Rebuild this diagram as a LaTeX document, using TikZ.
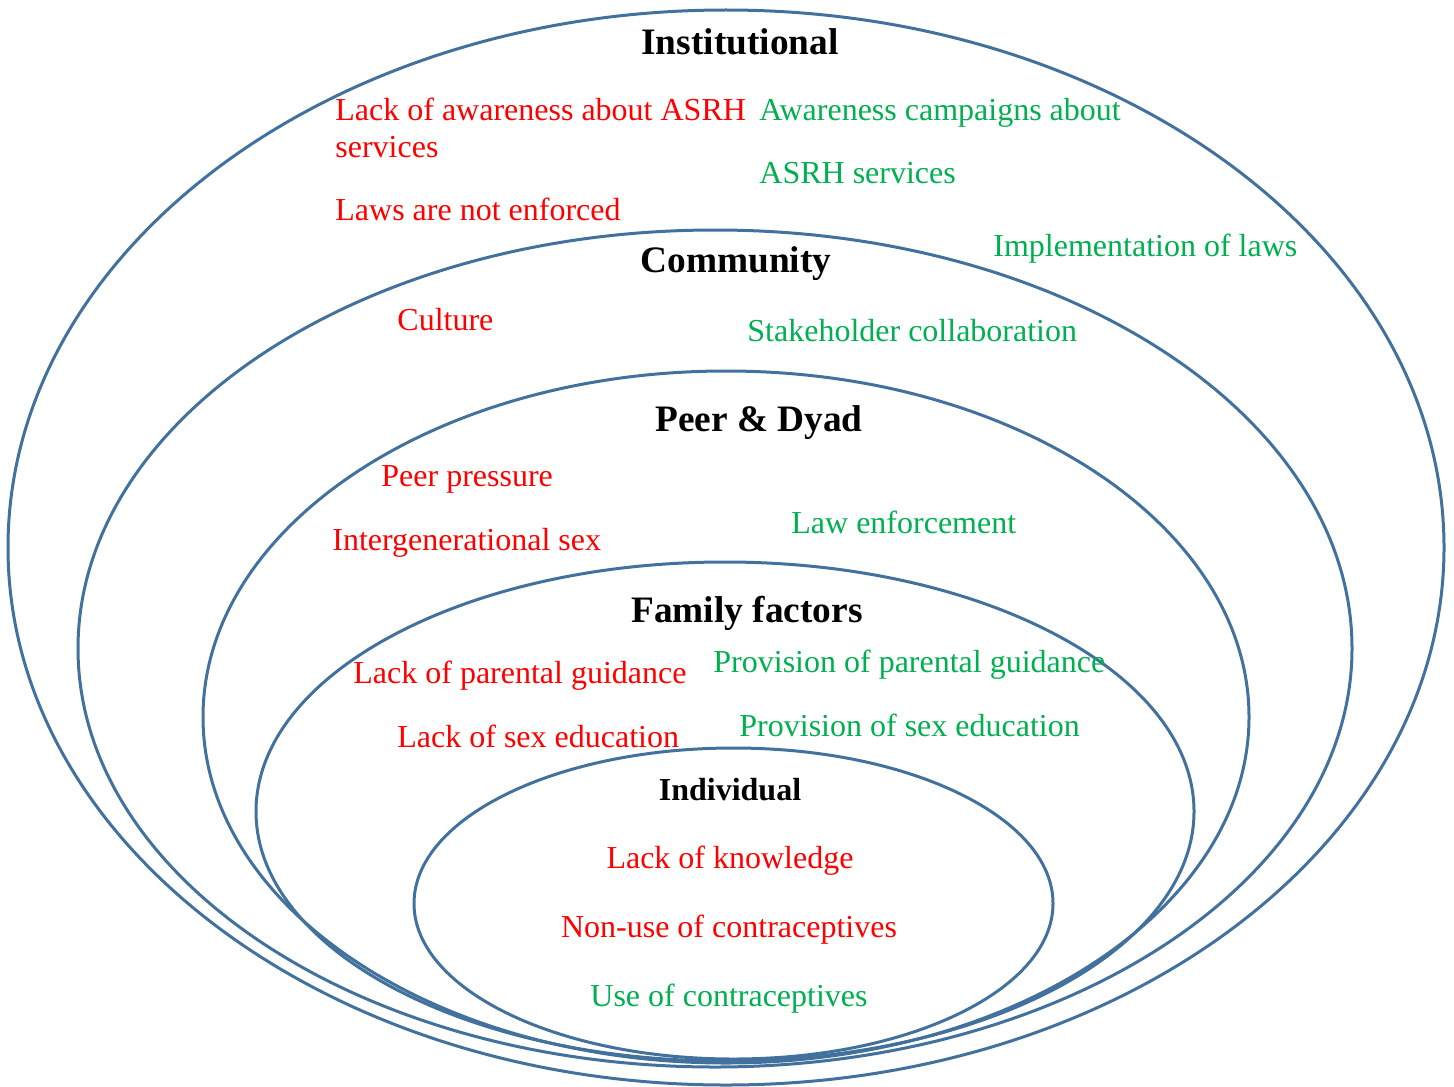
\documentclass[tikz,border=0pt]{standalone}
\usepackage{fontspec}
\setmainfont{Liberation Serif}
\definecolor{ringblue}{RGB}{65,113,156}
\definecolor{barrier}{RGB}{255,0,0}
\definecolor{enabler}{RGB}{0,176,80}
\begin{document}
\begin{tikzpicture}[x=0.5pt,y=-0.5pt,
  ring/.style={draw=ringblue,line width=1.5pt},
  level/.style={font=\fontsize{18.67}{22}\selectfont\bfseries,anchor=base,inner sep=0pt},
  levelsm/.style={font=\fontsize{16}{19}\selectfont\bfseries,anchor=base,inner sep=0pt},
  negtxt/.style={font=\fontsize{16}{19}\selectfont,text=barrier,anchor=base west,inner sep=0pt},
  postxt/.style={font=\fontsize{16}{19}\selectfont,text=enabler,anchor=base west,inner sep=0pt},
  negmid/.style={font=\fontsize{16}{19}\selectfont,text=barrier,anchor=base,inner sep=0pt},
  posmid/.style={font=\fontsize{16}{19}\selectfont,text=enabler,anchor=base,inner sep=0pt}]
\useasboundingbox (0,0) rectangle (1454,1086);

% nested levels of the socio-ecological model
\draw[ring] (726,547.5) ellipse [x radius=359pt, y radius=268.75pt];
\draw[ring] (715,648.5) ellipse [x radius=318.5pt, y radius=209.25pt];
\draw[ring] (726,717) ellipse [x radius=261.5pt, y radius=173pt];
\draw[ring] (725,811.5) ellipse [x radius=234.5pt, y radius=124.75pt];
\draw[ring] (733.5,903.5) ellipse [x radius=159.75pt, y radius=77.75pt];

% Institutional
\node[level] (inst) at (740,55) {Institutional};
\node[negtxt] (inst-n1) at (335,120) {Lack of awareness about ASRH};
\node[negtxt] (inst-n1b) at (335,157) {services};
\node[negtxt] (inst-n2) at (335,220) {Laws are not enforced};
\node[postxt] (inst-p1) at (759,120) {Awareness campaigns about};
\node[postxt] (inst-p1b) at (759,183) {ASRH services};
\node[postxt] (inst-p2) at (993,256) {Implementation of laws};

% Community
\node[level] (comm) at (736,272) {Community};
\node[negtxt] (comm-n1) at (397,330) {Culture};
\node[postxt] (comm-p1) at (747,341) {Stakeholder collaboration};

% Peer & Dyad
\node[level] (peer) at (759,431) {Peer \& Dyad};
\node[negtxt] (peer-n1) at (381,486) {Peer pressure};
\node[negtxt] (peer-n2) at (332,550) {Intergenerational sex};
\node[postxt] (peer-p1) at (791,533) {Law enforcement};

% Family factors
\node[level] (fam) at (747,622) {Family factors};
\node[negtxt] (fam-n1) at (353,683) {Lack of parental guidance};
\node[negtxt] (fam-n2) at (397,747) {Lack of sex education};
\node[postxt] (fam-p1) at (713,672) {Provision of parental guidance};
\node[postxt] (fam-p2) at (739,736) {Provision of sex education};

% Individual
\node[levelsm] (ind) at (730,800) {Individual};
\node[negmid] (ind-n1) at (730,868) {Lack of knowledge};
\node[negmid] (ind-n2) at (729,937) {Non-use of contraceptives};
\node[posmid] (ind-p1) at (729,1006) {Use of contraceptives};
\end{tikzpicture}
\end{document}
